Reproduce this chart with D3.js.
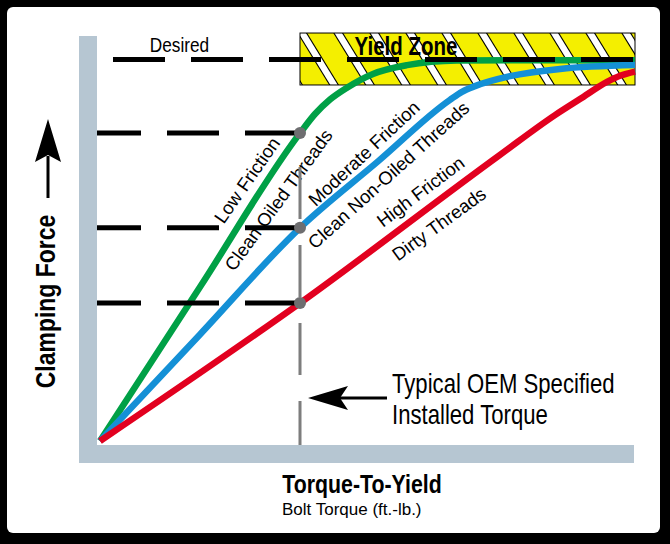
<!DOCTYPE html>
<html><head><meta charset="utf-8">
<script src="https://cdn.jsdelivr.net/npm/d3@7"></script>
<style>html,body{margin:0;padding:0;background:#000;} svg{display:block}</style>
</head><body><svg id="c" width="670" height="544"></svg>
<script>
// ---------- data ----------
const seriesNames = ["Low Friction", "Moderate Friction", "High Friction"];
const seriesSubtitles = ["Clean Oiled Threads", "Clean Non-Oiled Threads", "Dirty Threads"];
const lowTorque  = [0, 20, 40, 43, 46, 49.4, 54.6, 61.4, 71.4, 84, 107];
const lowForce   = [0, 40.3, 80.6, 85.6, 89.4, 92.5, 96.1, 98.4, 99.6, 99.7, 99.7];
const modTorque  = [0, 20, 40, 55.6, 70, 72.4, 75, 82, 92, 107];
const modForce   = [0, 27.9, 55.8, 73.2, 89.3, 91.4, 92.9, 95.5, 97.4, 98.4];
const highTorque = [0, 40, 80, 91, 96, 101.4, 104, 107];
const highForce  = [0, 36.1, 74.9, 85.3, 89.5, 94.0, 95.6, 96.7];
const specTorque = 40;          // typical OEM specified installed torque
const desiredForce = 99.9;
const yieldTorque = [40, 107];
const yieldForce = [93.2, 106.8];
// label anchors (torque, force) and angles
const labelTorque = [29.4, 35.7, 52.8, 57.7, 64.1, 67.8];
const labelForce  = [68.3, 63.1, 75.3, 69.6, 65.3, 56.8];
const labelAngle  = [-55, -54, -43, -42, -37, -36];

// ---------- setup ----------
const svg = d3.select("#c");
const x = d3.scaleLinear().domain([0, 107]).range([100, 635]);
const y = d3.scaleLinear().domain([0, 100]).range([441, 59]);

function hasFont(name){
  const t = svg.append("text").attr("x",-1000).attr("y",-1000).style("font-size","40px").text("Clamping Force WWW");
  t.style("font-family","monospace"); const a = t.node().getComputedTextLength();
  t.style("font-family",`'${name}', monospace`); const b = t.node().getComputedTextLength();
  t.remove(); return Math.abs(a-b) > 0.5;
}
const NARROW = hasFont("Liberation Sans Narrow");
function ntext(g, px, py, str, size, weight, anchor, rot){
  const grp = g.append("g").attr("transform",
    `translate(${px},${py})${rot ? ` rotate(${rot})` : ""}${NARROW ? "" : " scale(0.82,1)"}`);
  return grp.append("text").attr("text-anchor", anchor)
    .style("font-family", NARROW ? "'Liberation Sans Narrow','Arial Narrow',sans-serif" : "'Liberation Sans',Arial,sans-serif")
    .style("font-size", size + "px").style("font-weight", weight).attr("fill","#000").text(str);
}

// frame
svg.append("rect").attr("width",670).attr("height",544).attr("fill","#000");
svg.append("rect").attr("x",7).attr("y",7).attr("width",653).attr("height",526).attr("rx",6).attr("fill","#fff");

// ---------- yield zone ----------
const yz = {x0: x(yieldTorque[0]), x1: x(yieldTorque[1]), y0: y(yieldForce[1]), y1: y(yieldForce[0])};
const defs = svg.append("defs");
defs.append("clipPath").attr("id","yzclip").append("rect")
  .attr("x",yz.x0).attr("y",yz.y0).attr("width",yz.x1-yz.x0).attr("height",yz.y1-yz.y0);
svg.append("rect").attr("x",yz.x0).attr("y",yz.y0).attr("width",yz.x1-yz.x0).attr("height",yz.y1-yz.y0)
  .attr("fill","#f4ef00");
const stripes = svg.append("g").attr("clip-path","url(#yzclip)");
const ks = d3.range(-2, 11);
const h = yz.y1 - yz.y0;
stripes.selectAll("line.b").data(ks).join("line")
  .attr("x1",k=>yz.x0+1+36*k).attr("y1",yz.y0-2).attr("x2",k=>yz.x0+1+36*k+h*0.635+1.3).attr("y2",yz.y1+2)
  .attr("stroke","#000").attr("stroke-width",8.5);
stripes.selectAll("line.w").data(ks).join("line")
  .attr("x1",k=>yz.x0+1+36*k).attr("y1",yz.y0-2).attr("x2",k=>yz.x0+1+36*k+h*0.635+1.3).attr("y2",yz.y1+2)
  .attr("stroke","#fff").attr("stroke-width",6.3);
svg.append("rect").attr("x",yz.x0).attr("y",yz.y0).attr("width",yz.x1-yz.x0).attr("height",yz.y1-yz.y0)
  .attr("fill","none").attr("stroke","#000").attr("stroke-width",1);

// ---------- curves ----------
const series = [
  {t: lowTorque, f: lowForce, color: "#00a046"},
  {t: modTorque, f: modForce, color: "#1490d6"},
  {t: highTorque, f: highForce, color: "#e2001f"}
];
const line = d3.line().x(d=>x(d[0])).y(d=>y(d[1])).curve(d3.curveMonotoneX);
svg.selectAll("path.curve").data(series).join("path").attr("class","curve")
  .attr("d", s => line(s.t.map((t,i)=>[t, s.f[i]])))
  .attr("fill","none").attr("stroke", s=>s.color).attr("stroke-width",6.5);

// line labels
const labels = [seriesNames[0], seriesSubtitles[0], seriesNames[1], seriesSubtitles[1], seriesNames[2], seriesSubtitles[2]];
labels.forEach((txt,i)=>{
  svg.append("text").attr("transform",`translate(${x(labelTorque[i])},${y(labelForce[i])}) rotate(${labelAngle[i]})`)
    .attr("text-anchor","middle").attr("dy","0.35em")
    .style("font-family","'Liberation Sans',Arial,sans-serif").style("font-size","18.5px").text(txt);
});

// ---------- reference lines ----------
const specForces = series.map(s => s.f[s.t.indexOf(specTorque)]);
svg.append("line").attr("x1",x(specTorque)).attr("x2",x(specTorque)).attr("y1",y(specForces[0])+8).attr("y2",445)
  .attr("stroke","#7d7d7d").attr("stroke-width",3).attr("stroke-dasharray","52 26").attr("stroke-dashoffset",52);
svg.selectAll("line.h").data(specForces).join("line")
  .attr("x1",89).attr("x2",x(specTorque)).attr("y1",d=>y(d)).attr("y2",d=>y(d))
  .attr("stroke","#000").attr("stroke-width",5).attr("stroke-dasharray","52 26");
svg.append("line").attr("x1",113).attr("x2",x(107)).attr("y1",y(desiredForce)).attr("y2",y(desiredForce))
  .attr("stroke","#000").attr("stroke-width",5).attr("stroke-dasharray","52 26");
svg.selectAll("circle.dot").data(specForces).join("circle")
  .attr("cx",x(specTorque)).attr("cy",d=>y(d)).attr("r",6).attr("fill","#6e6e70");

// ---------- axes (thick bands) ----------
svg.append("rect").attr("x",79).attr("y",36).attr("width",18).attr("height",427).attr("fill","#b6c6d2");
svg.append("rect").attr("x",79).attr("y",445).attr("width",555).attr("height",18).attr("fill","#b6c6d2");

// ---------- texts ----------
ntext(svg, 179.5, 52, "Desired", 21, "normal", "middle");
ntext(svg, 406, 55, "Yield Zone", 25, "bold", "middle");
ntext(svg, 55, 301.5, "Clamping Force", 28, "bold", "middle", -90);
ntext(svg, 392, 393, "Typical OEM Specified", 27, "normal", "start");
ntext(svg, 392, 424, "Installed Torque", 27, "normal", "start");
ntext(svg, 362, 493, "Torque-To-Yield", 26, "bold", "middle");
svg.append("text").attr("x",282).attr("y",515).style("font-family","'Liberation Sans',Arial,sans-serif")
  .style("font-size","17px").text("Bolt Torque (ft.-lb.)");

// arrows
const tip = x(specTorque) + 8;
svg.append("line").attr("x1",tip+32).attr("x2",387).attr("y1",398).attr("y2",398).attr("stroke","#000").attr("stroke-width",3);
svg.append("path").attr("d",`M${tip},398 L${tip+40},386 L${tip+32},398 L${tip+40},410 Z`).attr("fill","#000");
svg.append("line").attr("x1",48).attr("x2",48).attr("y1",156).attr("y2",198).attr("stroke","#000").attr("stroke-width",3);
svg.append("path").attr("d","M48,119 L35,162 L48,155 L61,162 Z").attr("fill","#000");
</script>
</body></html>
